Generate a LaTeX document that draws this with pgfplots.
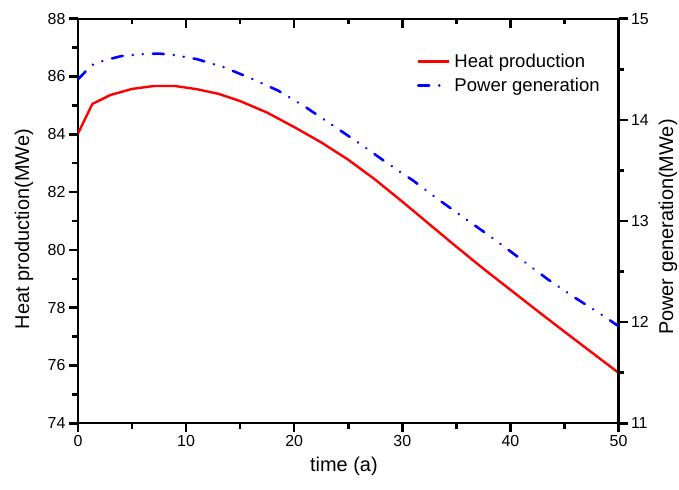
\documentclass[border=0pt]{standalone}
\usepackage{pgfplots}
\pgfplotsset{compat=1.18}
\usepackage{fontspec}
\setmainfont{Liberation Sans}

\begin{document}
\begin{tikzpicture}
\pgfplotsset{
  every axis/.append style={
    scale only axis, width=540.5bp, height=404.6bp,
    at={(0,0)}, anchor=south west,
    xmin=0, xmax=50,
    /pgf/number format/assume math mode=true,
    tick label style={font=\fontsize{16}{18}\selectfont},
    label style={font=\fontsize{20}{24}\selectfont},
    axis line style={-, line width=2.2bp},
    major tick length=9bp, minor tick length=5.5bp,
    tick style={line width=2.5bp, black},
  },
}
\useasboundingbox (-78bp,-66.7bp) rectangle (601bp,423.3bp);

% left axis: heat production
\begin{axis}[
  xtick pos=bottom, ytick pos=left, tick align=outside,
  ymin=74, ymax=88, ytick={74,76,...,88}, minor y tick num=1,
  xtick={0,10,...,50}, minor x tick num=1,
  xlabel={time (a)}, ylabel={Heat production(MWe)},
  xlabel style={at={(axis description cs:0.492,-0.1055)}, anchor=center},
  ylabel style={at={(axis description cs:-0.0999,0.48)}, anchor=center},
]
\addplot[red, line width=2.4bp] coordinates {
(0,84.03) (1.33,85.05) (3,85.36) (5,85.57) (7,85.67) (9,85.67) (11,85.56)
(13,85.40) (15,85.15) (17.5,84.75) (20,84.25) (22.5,83.72) (25,83.12)
(27.5,82.43) (30,81.67) (32.5,80.89) (35,80.11) (37.5,79.35) (40,78.62)
(42.5,77.89) (45,77.17) (47.5,76.46) (50,75.75)
};
\end{axis}

% top ticks (inward)
\begin{axis}[
  hide y axis, ymin=0, ymax=1,
  xtick pos=top, tick align=inside,
  xtick={0,10,...,50}, minor x tick num=1, xticklabels={},
]
\end{axis}

% right axis: power generation
\begin{axis}[
  hide x axis, axis y line*=right, tick align=outside,
  ymin=11, ymax=15, ytick={11,12,...,15}, minor y tick num=1,
  ylabel={Power generation(MWe)},
  ylabel style={at={(axis description cs:1.0916,0.485)}, anchor=center},
  legend style={draw=none, fill=none, at={(axis description cs:0.627,0.918)},
    anchor=north west, inner sep=0pt, outer sep=0pt, row sep=5bp,
    font=\fontsize{18.6}{22}\selectfont, nodes={inner sep=2bp}},
  legend cell align=left,
  legend image code/.code={\draw[#1] (0bp,0bp) -- (31bp,0bp);},
]
\addlegendimage{red, line width=2.4bp}
\addlegendentry{\hspace{2bp}Heat production}
\addplot[blue, line width=2.6bp, line cap=round,
  dash pattern=on 11bp off 10bp on 0.1bp off 10bp on 0.1bp off 10bp] coordinates {
(0,14.40) (1.25,14.54) (2.5,14.59) (4,14.63) (6,14.65) (7.5,14.655) (9,14.64)
(11,14.60) (13.5,14.52) (16,14.41) (18.5,14.29) (21,14.13) (23.5,13.95)
(26,13.77) (28.5,13.58) (31,13.40) (33.5,13.20) (36,13.01) (38.5,12.82)
(41,12.62) (43.5,12.42) (46,12.24) (48.5,12.07) (50,11.96)
};
\addlegendentry{\hspace{2bp}Power generation}
\end{axis}
\end{tikzpicture}
\end{document}
